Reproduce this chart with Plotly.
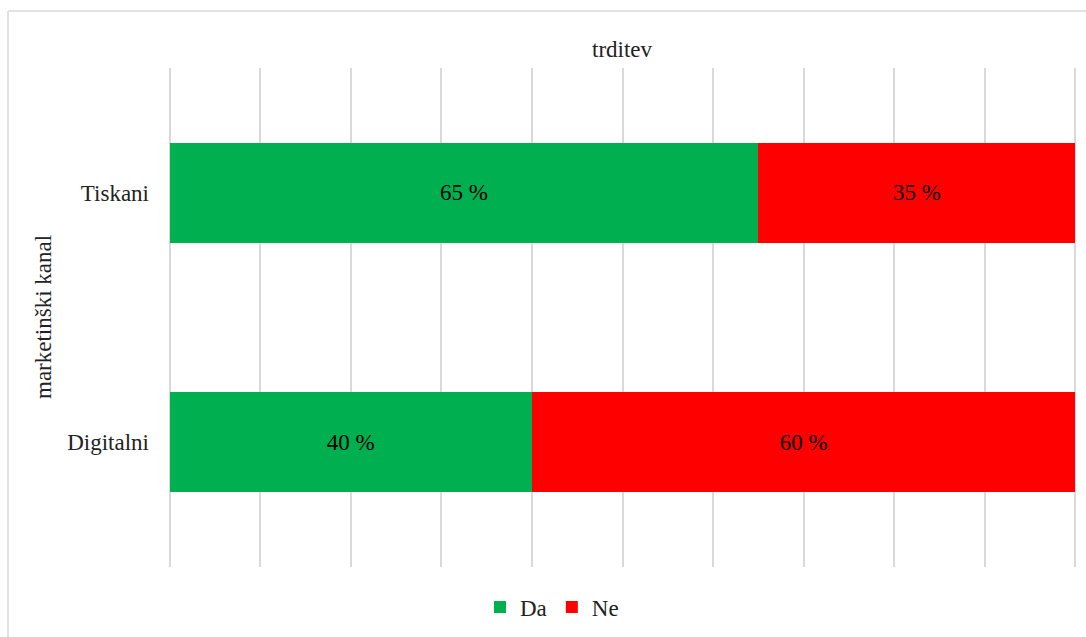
import plotly.graph_objects as go

categories = ["Digitalni", "Tiskani"]
da_values = [40, 65]
ne_values = [60, 35]
da_labels = ["40 %", "65 %"]
ne_labels = ["60 %", "35 %"]

FONT = "Times New Roman"
FS = 23
W, H = 1086, 637
L, R, T, B = 165, 6, 68, 70
pw, ph = W - L - R, H - T - B

def px_x(p):
    return (p - L) / pw

def px_y(p):
    return 1 - (p - T) / ph

fig = go.Figure()
fig.add_trace(go.Bar(
    y=categories, x=da_values, name="Da", orientation="h",
    marker=dict(color="#00B050", line=dict(width=0)),
    text=da_labels, textposition="inside", insidetextanchor="middle",
    textfont=dict(family=FONT, size=FS, color="black"),
))
fig.add_trace(go.Bar(
    y=categories, x=ne_values, name="Ne", orientation="h",
    marker=dict(color="#FF0000", line=dict(width=0)),
    text=ne_labels, textposition="inside", insidetextanchor="middle",
    textfont=dict(family=FONT, size=FS, color="black"),
))

fig.update_layout(
    width=W, height=H,
    margin=dict(l=L, r=R, t=T, b=B),
    barmode="stack", bargap=0.6,
    plot_bgcolor="white", paper_bgcolor="white",
    font=dict(family=FONT, size=FS, color="black"),
    showlegend=True,
    legend=dict(orientation="h", x=px_x(552), xanchor="center",
                y=px_y(607), yanchor="middle",
                font=dict(family=FONT, size=FS, color="#222"),
                itemwidth=30, traceorder="normal"),
    xaxis=dict(range=[-0.5, 100.5], dtick=10, showticklabels=False,
               showgrid=True, gridcolor="#D9D9D9", gridwidth=1.5,
               zeroline=False, showline=False, fixedrange=True),
    yaxis=dict(showgrid=False, zeroline=False, showline=False, ticks="",
               ticklabelstandoff=15, tickfont=dict(family=FONT, size=FS, color="#222"),
               categoryorder="array", categoryarray=categories),
    annotations=[
        dict(text="trditev", xref="paper", yref="paper", x=px_x(622), y=px_y(50),
             xanchor="center", yanchor="middle", showarrow=False,
             font=dict(family=FONT, size=FS, color="#222")),
        dict(text="marketinški kanal", xref="paper", yref="paper", x=px_x(43), y=px_y(317),
             xanchor="center", yanchor="middle", showarrow=False, textangle=-90,
             font=dict(family=FONT, size=FS, color="#222")),
    ],
    shapes=[
        dict(type="line", xref="paper", yref="paper", x0=px_x(8), x1=px_x(8),
             y0=px_y(11), y1=px_y(637), line=dict(color="#D9D9D9", width=1.5)),
        dict(type="line", xref="paper", yref="paper", x0=px_x(8), x1=px_x(1090),
             y0=px_y(11), y1=px_y(11), line=dict(color="#D9D9D9", width=1.5)),
    ],
)

fig.write_html("out.html")
